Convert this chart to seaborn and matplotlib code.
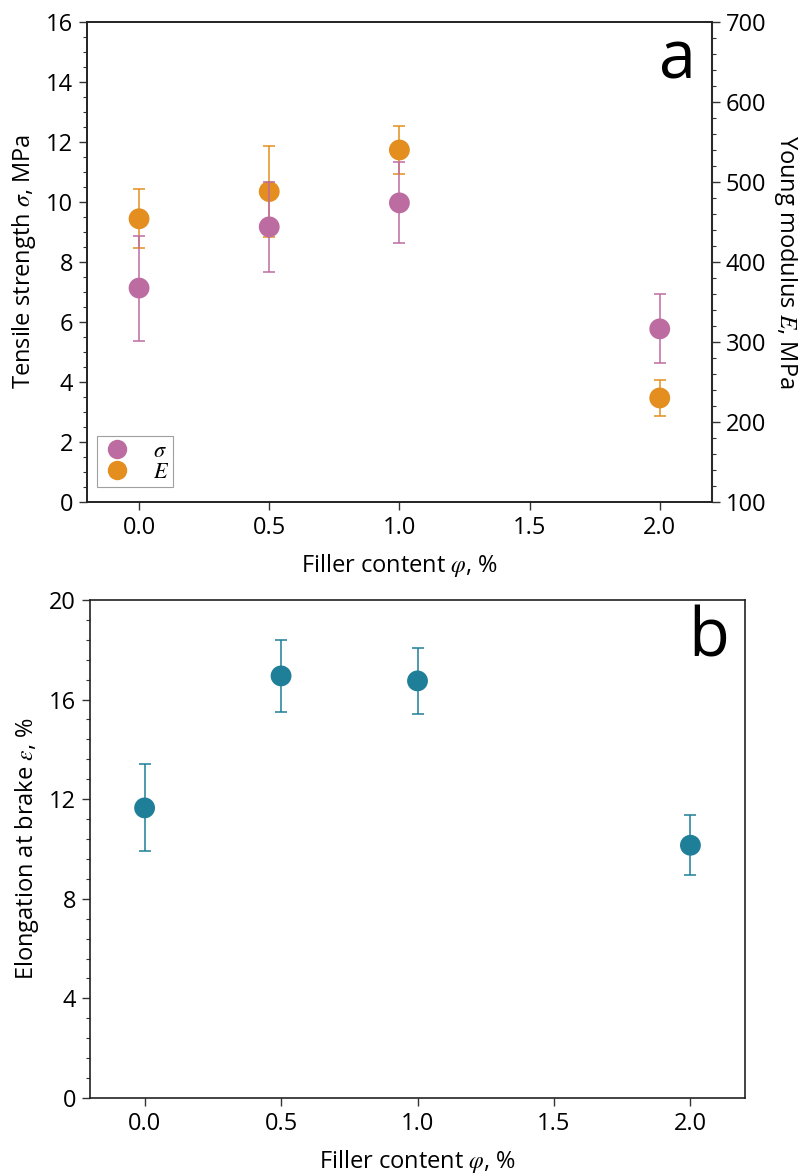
import numpy as np
import pandas as pd
import matplotlib
matplotlib.use("Agg")
import matplotlib.pyplot as plt
import seaborn as sns
from matplotlib.ticker import MultipleLocator
from matplotlib.lines import Line2D

sns.set_theme(style="ticks")
plt.rcParams['font.family'] = ['Open Sans', 'DejaVu Sans']
plt.rcParams['mathtext.fontset'] = 'stix'
plt.rcParams['text.color'] = 'black'
plt.rcParams['axes.labelcolor'] = 'black'
plt.rcParams['xtick.color'] = 'black'
plt.rcParams['ytick.color'] = 'black'

# Data
filler = [0.0, 0.5, 1.0, 2.0]
sigma = [7.13, 9.17, 9.97, 5.77]
sigma_err = [1.75, 1.5, 1.35, 1.15]
young = [454, 488, 540, 230]
young_err = [37, 57, 29.5, 22]
elong = [11.65, 16.95, 16.75, 10.15]
elong_err = [1.75, 1.45, 1.33, 1.2]

c_sigma = "#BD6CA2"
c_E = "#E38E1E"
c_eps = "#1F7F99"

df_a = pd.DataFrame({"phi": filler, "sigma": sigma, "E": young})
df_b = pd.DataFrame({"phi": filler, "eps": elong})

fig = plt.figure(figsize=(7.98, 11.75), dpi=100)
ax1 = fig.add_axes([0.109, 0.5728, 0.783, 0.4085])
ax2 = ax1.twinx()
ax3 = fig.add_axes([0.1128, 0.0655, 0.8208, 0.4239])

fs = 17
ms = 15
elw = 1.1
cap = 4.5

# Panel a: E on twin axis (drawn below), sigma on top
ax1.set_zorder(ax2.get_zorder() + 1)
ax1.patch.set_visible(False)

ax2.errorbar(filler, young, yerr=young_err, fmt='none', ecolor=c_E,
             elinewidth=elw, capsize=cap, capthick=elw)
sns.scatterplot(data=df_a, x="phi", y="E", ax=ax2, color=c_E, s=ms**2,
                edgecolor='none', zorder=3)

ax1.errorbar(filler, sigma, yerr=sigma_err, fmt='none', ecolor=c_sigma,
             elinewidth=elw, capsize=cap, capthick=elw)
sns.scatterplot(data=df_a, x="phi", y="sigma", ax=ax1, color=c_sigma, s=ms**2,
                edgecolor='none', zorder=3)

handles = [Line2D([], [], ls='none', marker='o', ms=14, color=c_sigma, mec='none'),
           Line2D([], [], ls='none', marker='o', ms=14, color=c_E, mec='none')]
leg = ax1.legend(handles, [r'$\sigma$', r'$E$'], loc='lower left',
                 bbox_to_anchor=(0.016, 0.031), borderaxespad=0, fontsize=16,
                 frameon=True, fancybox=False, edgecolor='#888888',
                 handletextpad=0.9, borderpad=0.2, labelspacing=0.0,
                 handlelength=1.4)
leg.get_frame().set_linewidth(0.8)

ax1.set_xlim(-0.2, 2.2)
ax1.set_ylim(0, 16)
ax2.set_ylim(100, 700)
ax1.set_xticks([0.0, 0.5, 1.0, 1.5, 2.0])
ax1.set_xticklabels(["0.0", "0.5", "1.0", "1.5", "2.0"])
ax1.yaxis.set_major_locator(MultipleLocator(2))
ax1.yaxis.set_minor_locator(MultipleLocator(0.5))
ax2.yaxis.set_major_locator(MultipleLocator(100))
ax2.yaxis.set_minor_locator(MultipleLocator(20))
ax1.set_xlabel(r"Filler content $\varphi$, %", fontsize=fs, labelpad=9)
ax1.set_ylabel(r"Tensile strength $\sigma$, MPa", fontsize=fs, labelpad=6)
ax2.set_ylabel(r"Young modulus $E$, MPa", fontsize=fs, rotation=270, labelpad=24)
ax1.text(0.975, 0.99, "a", transform=ax1.transAxes, fontsize=48,
         ha='right', va='top')

# Panel b
ax3.errorbar(filler, elong, yerr=elong_err, fmt='none', ecolor=c_eps,
             elinewidth=elw, capsize=cap, capthick=elw)
sns.scatterplot(data=df_b, x="phi", y="eps", ax=ax3, color=c_eps, s=ms**2,
                edgecolor='none', zorder=3)
ax3.set_xlim(-0.2, 2.2)
ax3.set_ylim(0, 20)
ax3.set_xticks([0.0, 0.5, 1.0, 1.5, 2.0])
ax3.set_xticklabels(["0.0", "0.5", "1.0", "1.5", "2.0"])
ax3.yaxis.set_major_locator(MultipleLocator(4))
ax3.yaxis.set_minor_locator(MultipleLocator(0.8))
ax3.set_xlabel(r"Filler content $\varphi$, %", fontsize=fs, labelpad=9)
ax3.set_ylabel(r"Elongation at brake $\varepsilon$, %", fontsize=fs, labelpad=6)
ax3.text(0.975, 0.99, "b", transform=ax3.transAxes, fontsize=48,
         ha='right', va='top')

for ax in (ax1, ax2, ax3):
    ax.tick_params(axis='both', which='major', labelsize=fs, length=6,
                   width=1.0, direction='out', color='#333333', pad=4)
    ax.tick_params(axis='y', which='minor', length=3, width=0.8,
                   direction='out', color='#333333')
    for sp in ax.spines.values():
        sp.set_visible(True)
        sp.set_linewidth(1.2)
        sp.set_color('#222222')
ax2.spines['right'].set_color('#555555')
ax2.spines['right'].set_linewidth(1.5)

fig.savefig("out.png", dpi=100)
